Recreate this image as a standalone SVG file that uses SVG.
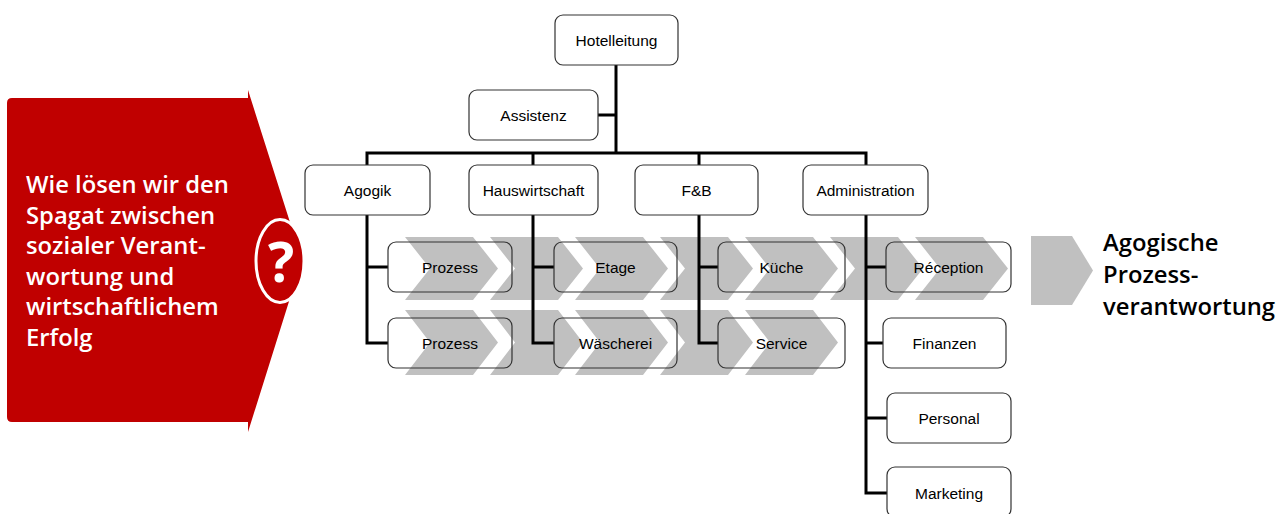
<svg xmlns="http://www.w3.org/2000/svg" width="1285" height="514" viewBox="0 0 1285 514">
<defs>
<style>
.box{fill:none;stroke:#333;stroke-width:1.2}
.lbl{font-family:"Liberation Sans",Arial,sans-serif;font-size:15.5px;fill:#000;text-anchor:middle}
.con{fill:none;stroke:#000;stroke-width:3;stroke-linejoin:miter}
.chev{fill:#c0c0c0}
.red{font-family:"Open Sans","Noto Sans",sans-serif;font-weight:600;font-size:23.8px;fill:#fff}
.blk{font-family:"Open Sans","Noto Sans",sans-serif;font-weight:600;font-size:23.8px;fill:#000}
</style>
<path id="ch1" class="chev" d="M0,0 h68 l25,31.5 l-25,31.5 h-68 l25,-31.5 z"/>
<path id="ch2" class="chev" d="M0,0 h68 l25,32.5 l-25,32.5 h-68 l25,-32.5 z"/>
</defs>
<rect width="1285" height="514" fill="#fff"/>

<g id="question">
<path d="M12,98 H248 V90 L302,260 L248,432 V422 H12 Q7,422 7,417 V103 Q7,98 12,98 Z" fill="#c00000"/>
<ellipse cx="280" cy="261" rx="24" ry="41.5" fill="#c00000" stroke="#fff" stroke-width="3"/>
<text x="281" y="282" font-family="'Open Sans','Noto Sans',sans-serif" font-weight="700" font-size="55" fill="#fff" text-anchor="middle">?</text>
<text class="red"><tspan x="26" y="193">Wie lösen wir den</tspan><tspan x="26" y="223.6">Spagat zwischen</tspan><tspan x="26" y="254.2">sozialer Verant-</tspan><tspan x="26" y="284.8">wortung und</tspan><tspan x="26" y="315.4">wirtschaftlichem</tspan><tspan x="26" y="346">Erfolg</tspan></text>
</g>

<g id="process-band">
<use href="#ch1" x="405" y="237"/>
<use href="#ch1" x="490" y="237"/>
<use href="#ch1" x="575" y="237"/>
<use href="#ch1" x="660" y="237"/>
<use href="#ch1" x="745" y="237"/>
<use href="#ch1" x="830" y="237"/>
<use href="#ch1" x="915" y="237"/>
<use href="#ch2" x="405" y="310"/>
<use href="#ch2" x="490" y="310"/>
<use href="#ch2" x="575" y="310"/>
<use href="#ch2" x="660" y="310"/>
<use href="#ch2" x="745" y="310"/>
</g>

<g id="legend">
<path d="M1031,236 H1072 L1093,270.5 L1072,305 H1031 Z" fill="#c0c0c0"/>
<text class="blk"><tspan x="1103" y="251">Agogische</tspan><tspan x="1103" y="283">Prozess-</tspan><tspan x="1103" y="315">verantwortung</tspan></text>
</g>

<g id="connectors">
<path class="con" d="M616,65 V153"/>
<path class="con" d="M598,115 H616"/>
<path class="con" d="M367,165 V153 H866 V165"/>
<path class="con" d="M533,153 V165"/>
<path class="con" d="M699,153 V165"/>
<path class="con" d="M367,215 V343 H388 M367,267 H388"/>
<path class="con" d="M533,215 V343 H554 M533,267 H554"/>
<path class="con" d="M699,215 V343 H718 M699,267 H718"/>
<path class="con" d="M866,215 V493 H887 M866,267 H886 M866,343 H883 M866,418 H887"/>
</g>

<g id="hotelleitung"><rect class="box" x="555" y="15" width="123" height="50" rx="8"/><text class="lbl" x="616.5" y="45.5">Hotelleitung</text></g>
<g id="assistenz"><rect class="box" x="469" y="90" width="129" height="50" rx="8"/><text class="lbl" x="533.5" y="120.5">Assistenz</text></g>
<g id="agogik"><rect class="box" x="305" y="165" width="125" height="50" rx="8"/><text class="lbl" x="367.5" y="195.5">Agogik</text></g>
<g id="hauswirtschaft"><rect class="box" x="469" y="165" width="129" height="50" rx="8"/><text class="lbl" x="533.5" y="195.5">Hauswirtschaft</text></g>
<g id="fb"><rect class="box" x="635" y="165" width="123" height="50" rx="8"/><text class="lbl" x="696.5" y="195.5">F&amp;B</text></g>
<g id="administration"><rect class="box" x="803" y="165" width="125" height="50" rx="8"/><text class="lbl" x="865.5" y="195.5">Administration</text></g>
<g id="prozess1"><rect class="box" x="388" y="242" width="124" height="50" rx="8"/><text class="lbl" x="450" y="272.5">Prozess</text></g>
<g id="prozess2"><rect class="box" x="388" y="318" width="124" height="50" rx="8"/><text class="lbl" x="450" y="348.5">Prozess</text></g>
<g id="etage"><rect class="box" x="554" y="242" width="123" height="50" rx="8"/><text class="lbl" x="615.5" y="272.5">Etage</text></g>
<g id="waescherei"><rect class="box" x="554" y="318" width="123" height="50" rx="8"/><text class="lbl" x="615.5" y="348.5">Wäscherei</text></g>
<g id="kueche"><rect class="box" x="718" y="242" width="127" height="50" rx="8"/><text class="lbl" x="781.5" y="272.5">Küche</text></g>
<g id="service"><rect class="box" x="718" y="318" width="127" height="50" rx="8"/><text class="lbl" x="781.5" y="348.5">Service</text></g>
<g id="reception"><rect class="box" x="886" y="242" width="125" height="50" rx="8"/><text class="lbl" x="948.5" y="272.5">Réception</text></g>
<g id="finanzen"><rect class="box" x="883" y="318" width="123" height="50" rx="8"/><text class="lbl" x="944.5" y="348.5">Finanzen</text></g>
<g id="personal"><rect class="box" x="887" y="393" width="124" height="50" rx="8"/><text class="lbl" x="949" y="423.5">Personal</text></g>
<g id="marketing"><rect class="box" x="887" y="467" width="124" height="50" rx="8"/><text class="lbl" x="949" y="498.5">Marketing</text></g>
</svg>
